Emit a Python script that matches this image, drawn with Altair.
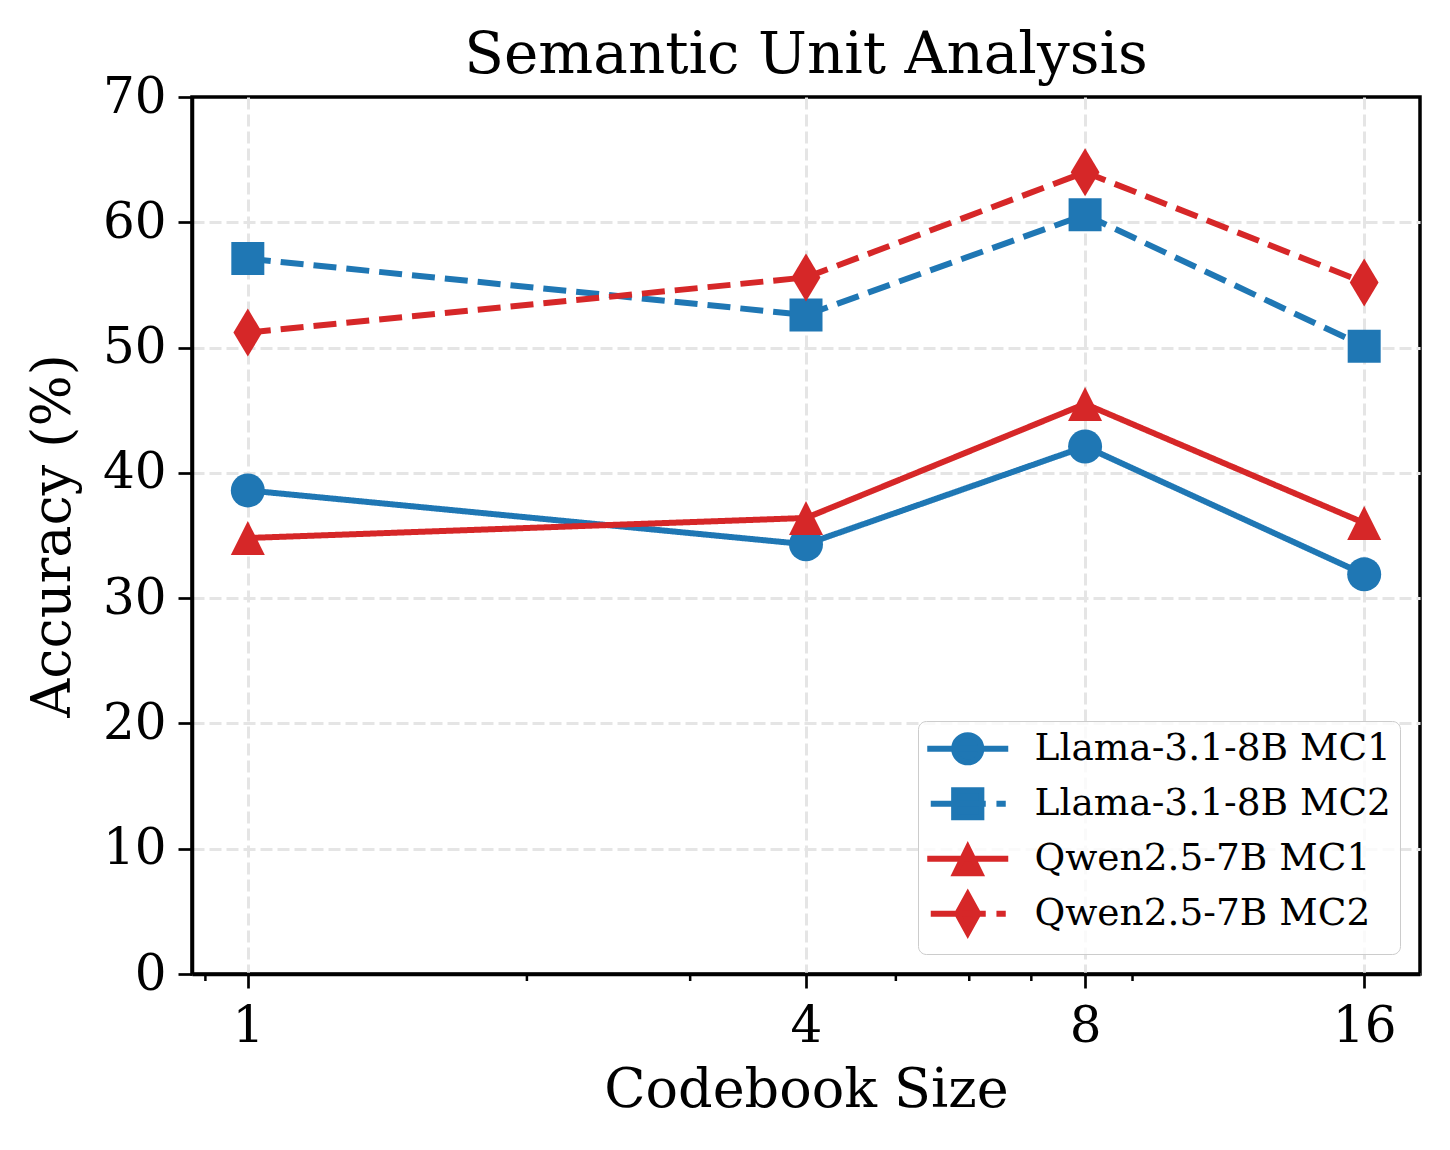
import altair as alt
import pandas as pd

# ---- data ----
codebook = [1, 4, 8, 16]
series_names = ["Llama-3.1-8B MC1", "Llama-3.1-8B MC2", "Qwen2.5-7B MC1", "Qwen2.5-7B MC2"]
llama_mc1 = [38.6, 34.3, 42.1, 31.9]
llama_mc2 = [57.1, 52.6, 60.6, 50.1]
qwen_mc1 = [34.8, 36.4, 45.5, 36.0]
qwen_mc2 = [51.2, 55.6, 64.0, 55.2]
x_ticks = [1, 4, 8, 16]
x_minor_ticks = [0.9, 2, 3, 5, 6, 7, 9]
y_ticks = [0, 10, 20, 30, 40, 50, 60, 70]

values = [llama_mc1, llama_mc2, qwen_mc1, qwen_mc2]
rows = []
for name, vals in zip(series_names, values):
    for c, v in zip(codebook, vals):
        rows.append({"series": name, "codebook": c, "acc": v})
df = pd.DataFrame(rows)
minor_df = pd.DataFrame({"codebook": x_minor_ticks})

# ---- styles ----
FONT = "DejaVu Serif"
BLUE = "#1f77b4"
RED = "#d62728"
colors = [BLUE, BLUE, RED, RED]
dashes = [[1, 0], [23, 10], [1, 0], [23, 10]]
TRI = "M0,-1L1,1L-1,1Z"
THIN_DIAMOND = "M0,-1L0.6,0L0,1L-0.6,0Z"
marker_shapes = ["circle", "square", TRI, THIN_DIAMOND]
marker_sizes = [1156, 1089, 1156, 2304]

# legend handle paths (line + marker), unit = 10px (symbol size 400)
SOLID = "M-4.05,0L4.05,0"
DASHED = "M-3.7,0L1.8,0M2.87,0L3.8,0"
leg_shapes = [
    SOLID + "M-1.36,0A1.36,1.36,0,1,0,1.36,0A1.36,1.36,0,1,0,-1.36,0Z",
    DASHED + "M-1.36,-1.36L1.36,-1.36L1.36,1.36L-1.36,1.36Z",
    SOLID + "M0,-1.1L1.25,1.45L-1.25,1.45Z",
    DASHED + "M0,-1.9L1.05,0L0,1.9L-1.05,0Z",
]

x_scale = alt.Scale(type="log", domain=[2 ** -0.2, 2 ** 4.2], nice=False)
y_scale = alt.Scale(domain=[0, 70], nice=False, zero=False)

x_enc = alt.X("codebook:Q", scale=x_scale,
              axis=alt.Axis(values=x_ticks, format="d", title="Codebook Size",
                            labelPadding=13, titlePadding=12, grid=True))
y_enc = alt.Y("acc:Q", scale=y_scale,
              axis=alt.Axis(values=y_ticks, title="Accuracy (%)",
                            labelPadding=12, titlePadding=22, grid=True,
                            gridOpacity=alt.condition("datum.value >= 70", alt.value(0), alt.value(1))))

layers = []
for i, name in enumerate(series_names):
    sub = alt.Chart(df).transform_filter(alt.datum.series == name)
    line = sub.mark_line(color=colors[i], strokeWidth=6, strokeDash=dashes[i]).encode(x=x_enc, y=y_enc)
    pts = sub.mark_point(filled=True, color=colors[i], opacity=1, shape=marker_shapes[i],
                         size=marker_sizes[i]).encode(x=x_enc, y=y_enc)
    layers += [line, pts]

minor = alt.Chart(minor_df).mark_rule(color="black", strokeWidth=2.5).encode(
    x=x_enc, y=alt.value(877), y2=alt.value(884))

leg_props = dict(title=None, orient="bottom-right", offset=20, padding=9,
                 symbolSize=400, symbolStrokeWidth=6, symbolOffset=22,
                 labelFont=FONT, labelFontSize=37.5, labelColor="black", labelOffset=48,
                 rowPadding=-8, gridAlign="all",
                 fillColor="rgba(255,255,255,0.8)", strokeColor="#cccccc",
                 cornerRadius=8, labelLimit=600)
legend_layer = alt.Chart(df).transform_filter("false").mark_point(
    filled=True, opacity=1, strokeWidth=6).encode(
    x=x_enc, y=y_enc,
    fill=alt.Fill("series:N", scale=alt.Scale(domain=series_names, range=colors),
                  legend=alt.Legend(**leg_props)),
    stroke=alt.Stroke("series:N", scale=alt.Scale(domain=series_names, range=colors),
                      legend=alt.Legend(**leg_props)),
    shape=alt.Shape("series:N", scale=alt.Scale(domain=series_names, range=leg_shapes),
                    legend=alt.Legend(**leg_props)),
)

chart = alt.layer(*layers, minor, legend_layer).properties(
    width=1228, height=877,
    title=alt.TitleParams("Semantic Unit Analysis", font=FONT, fontSize=58, fontWeight="normal",
                          color="black", anchor="middle", frame="group", offset=-13),
    autosize=alt.AutoSizeParams(type="none"),
    padding={"left": 184, "top": 89, "right": 22, "bottom": 168},
    background="white",
).configure_view(stroke="black", strokeWidth=3.5).configure_axis(
    labelFont=FONT, labelFontSize=50, labelColor="black",
    titleFont=FONT, titleFontSize=54, titleFontWeight="normal", titleColor="black",
    domainColor="black", domainWidth=3.5, tickColor="black", tickWidth=2.7, tickSize=14,
    gridColor="#e5e5e5", gridWidth=3, gridDash=[12, 5],
)

chart.save("out.html", embed_options={"renderer": "svg", "actions": False})
